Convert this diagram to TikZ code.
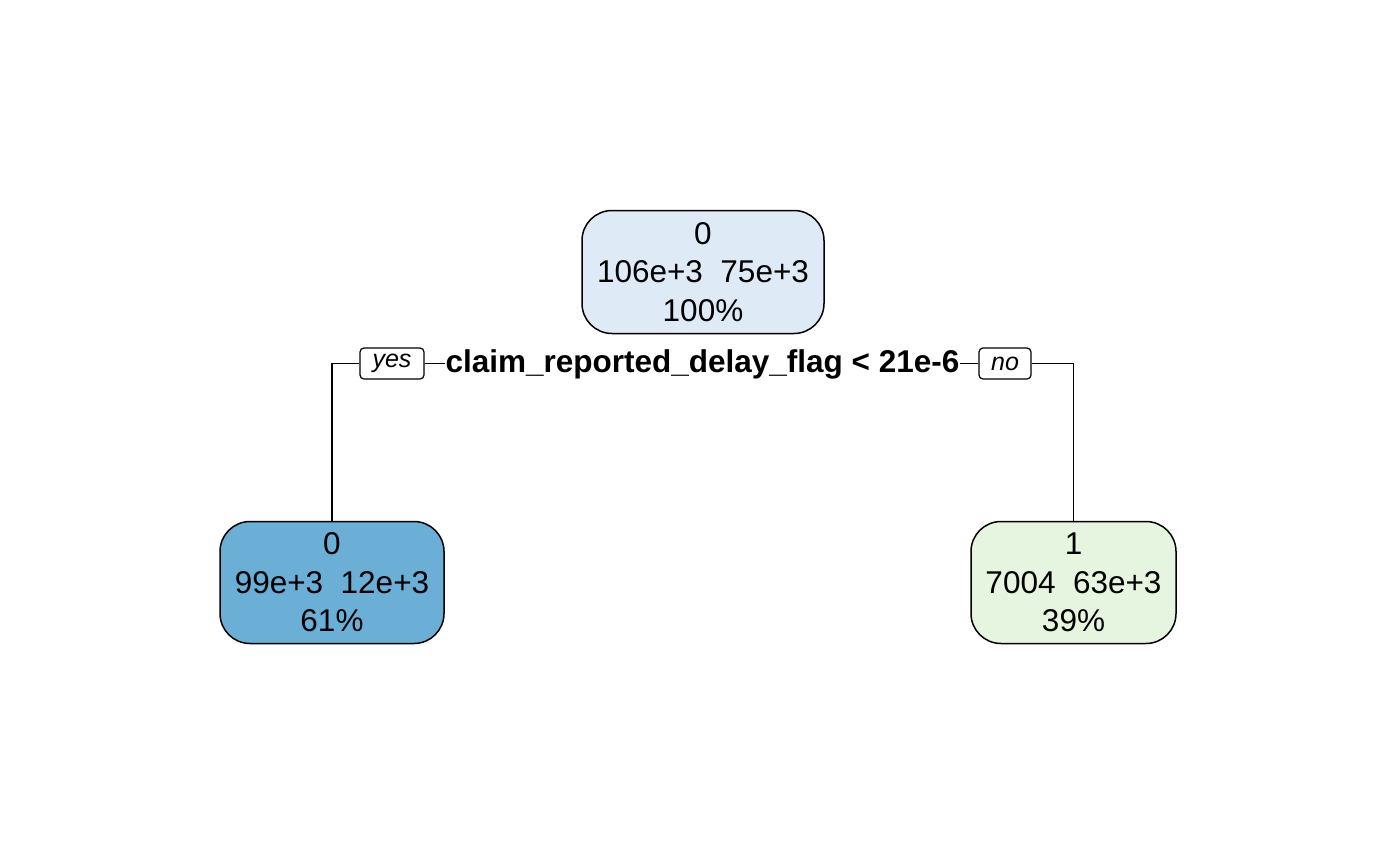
\documentclass[tikz,border=0pt]{standalone}
\usepackage{fontspec}
\setmainfont{Liberation Sans}
\definecolor{rootfill}{HTML}{DEEBF7}
\definecolor{leftfill}{HTML}{6BAED6}
\definecolor{rightfill}{HTML}{E5F5E0}
\begin{document}
\begin{tikzpicture}[x=1pt,y=-1pt,
  treenode/.style={draw=black, line width=1.5pt, rounded corners=30pt, align=center,
    inner sep=0pt, font=\fontsize{31.5}{38.5}\selectfont},
  yesno/.style={draw=black, line width=1.2pt, rounded corners=4pt, inner sep=0pt,
    font=\fontsize{25}{28}\selectfont\itshape},
  edge/.style={line width=1.5pt}]
\useasboundingbox (0,0) rectangle (1400,865);
\node[treenode, fill=rootfill, minimum width=242pt, minimum height=123pt] (root) at (703,272) {0\\106e+3\ \ 75e+3\\100\%};
\node[treenode, fill=leftfill, minimum width=224pt, minimum height=122pt] (left) at (332,582.5) {0\\99e+3\ \ 12e+3\\61\%};
\node[treenode, fill=rightfill, minimum width=205pt, minimum height=122pt] (right) at (1073.5,582.5) {1\\7004\ \ 63e+3\\39\%};
\node[font=\fontsize{31.5}{34}\selectfont\bfseries, inner sep=0pt] (split) at (702.5,364) {claim\_reported\_delay\_flag < 21e-6};
\node[yesno, minimum width=64pt, minimum height=31pt] (yes) at (392,363.5) {yes};
\node[yesno, minimum width=52pt, minimum height=31pt] (no) at (1005,363.5) {no};
\coordinate (lc) at (332,363.5);
\coordinate (rc) at (1073.5,363.5);
\draw[edge] (left.north) -- (lc) -- (yes.west);
\draw[edge] (yes.east) -- (yes.east -| split.west);
\draw[edge] (no.west -| split.east) -- (no.west);
\draw[edge] (no.east) -- (rc) -- (right.north);
\end{tikzpicture}
\end{document}
